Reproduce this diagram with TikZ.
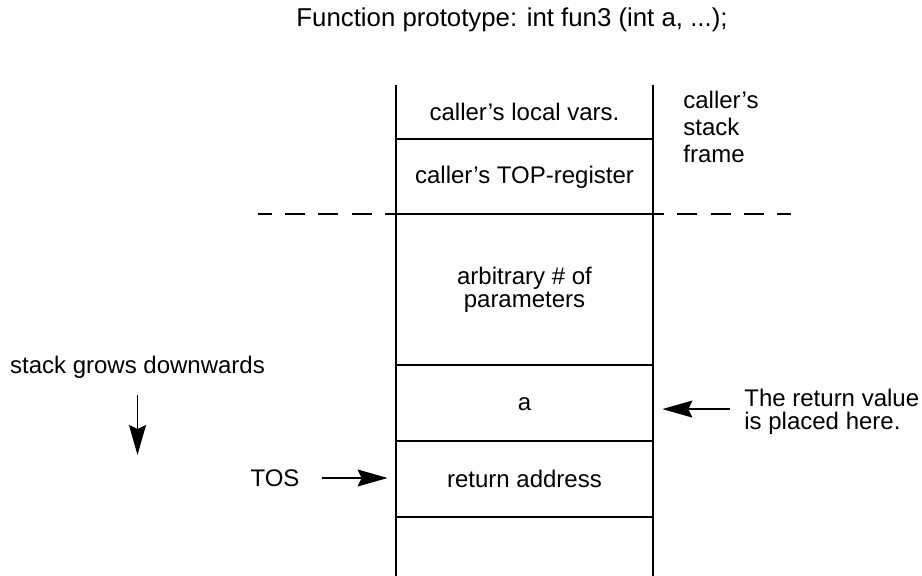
\documentclass[tikz,border=0pt]{standalone}
\usepackage{fontspec}
\setmainfont{Liberation Sans}
\usetikzlibrary{arrows.meta,positioning}

\begin{document}
\begin{tikzpicture}[
    x=0.5pt, y=-0.5pt,
    every node/.style={font=\fontsize{12}{11.5}\selectfont, inner sep=0pt},
    cell/.style={minimum width=128.5pt, align=center},
    rule/.style={line width=0.7pt},
    arr/.style={line width=0.7pt, -{Stealth[length=15pt, width=8.5pt, inset=2pt]}},
    frameline/.style={line width=0.7pt, dash pattern=on 10pt off 6.67pt, dash phase=4.5pt}
  ]
  \useasboundingbox (0,0) rectangle (922,576);

  % Title
  \node[font=\fontsize{12.9}{15}\selectfont] (proto) at (512,20)
    {Function prototype: int fun3 (int a, ...);};

  % Stack column
  \draw[rule] (396,85) -- (396,576);
  \draw[rule] (653,85) -- (653,576);
  \foreach \y in {139,214,365,441,517}
    \draw[rule] (396,\y) -- (653,\y);

  % Cells
  \node[cell] (lvars) at (524.5,112) {caller’s local vars.};
  \node[cell] (topreg) at (524.5,177) {caller’s TOP-register};
  \node[cell] (params) at (524.5,290) {arbitrary \# of\\parameters};
  \node[cell] (acell) at (524.5,404) {a};
  \node[cell] (ret) at (524.5,479) {return address};

  % Frame boundary
  \draw[frameline] (396,214) -- (258,214);
  \draw[frameline] (653,214) -- (791,214);
  \node[align=left, anchor=north west, font=\fontsize{12}{13.5}\selectfont] (frame)
    at (683,91) {caller’s\\stack\\frame};

  % Growth direction
  \node (grows) at (137.5,367) {stack grows downwards};
  \coordinate (growtip) at (138,455);
  \draw[arr, shorten <=8pt] (grows.south) -- (grows.south |- growtip);

  % Top of stack
  \node (tos) at (275,478) {TOS};
  \draw[arr, shorten <=11pt, shorten >=4pt] (tos.east) -- (tos.east -| ret.west);

  % Return value
  \node[align=left, anchor=north west] (retval) at (744,389)
    {The return value\\is placed here.};
  \draw[arr, shorten <=7pt, shorten >=4.5pt]
    ([yshift=1.5pt]retval.west) -- ([yshift=1.5pt]retval.west -| acell.east);
\end{tikzpicture}
\end{document}
